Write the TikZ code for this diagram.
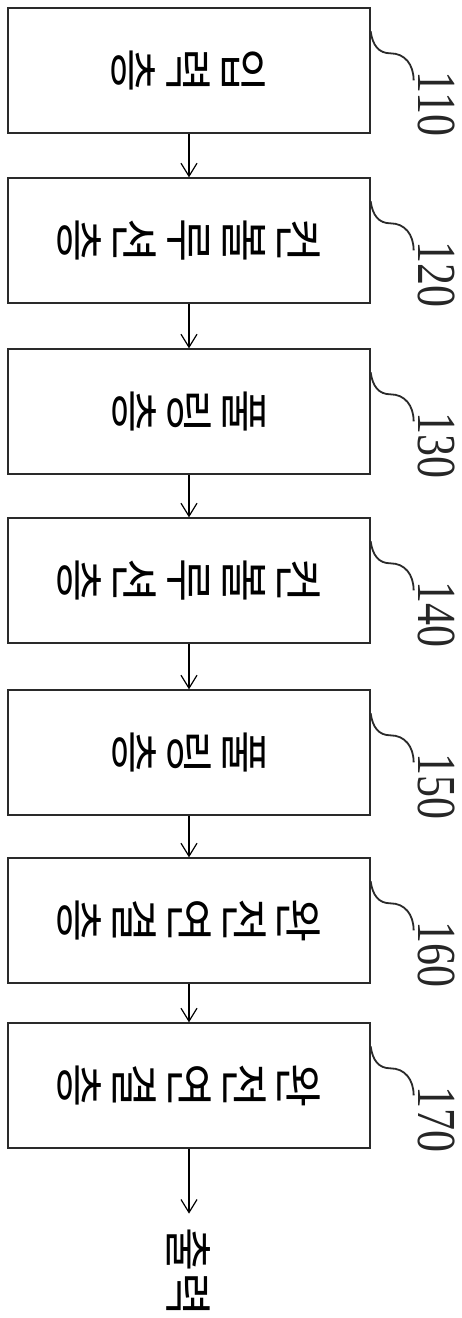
\documentclass[tikz,border=0pt]{standalone}
\usepackage{fontspec}
\setmainfont{Liberation Serif}
\newfontfamily\kr{Noto Sans CJK KR}
\usetikzlibrary{arrows.meta}
\definecolor{ink}{HTML}{2A2A2A}
\begin{document}
\begin{tikzpicture}[x=1pt,y=-1pt,
  layerbox/.style={draw=ink, line width=1.3pt, minimum width=362pt, minimum height=125pt, inner sep=0pt},
  layertext/.style={rotate=-90, align=center, inner sep=0pt, font=\kr\fontsize{48}{55}\selectfont},
  numlabel/.style={rotate=-90, inner sep=0pt, text=black!85, font=\fontsize{44}{44}\selectfont},
  labelline/.style={draw=ink, line width=1.8pt},
  flow/.style={draw=black, line width=1.2pt, -{Straight Barb[length=13pt,width=16pt,line width=1.2pt]}}
]
\useasboundingbox (0,0) rectangle (462,1318);
\fill[white] (0,0) rectangle (462,1318);
\foreach \i/\t/\n/\txt in {1/8/110/{입\\력\\층},2/178/120/{컨\\볼\\루\\션\\층},3/349/130/{풀\\링\\층},4/518/140/{컨\\볼\\루\\션\\층},5/690/150/{풀\\링\\층},6/858/160/{완\\전\\연\\결\\층},7/1023/170/{완\\전\\연\\결\\층}}{
  \node[layerbox] (b\i) at (189,\t+62.5) {};
  \node[layertext] (t\i) at (b\i.center) {\txt};
  \node[numlabel] (n\i) at (437,\t+96) {\scalebox{1}[1.25]{\n}};
  \draw[labelline] ([yshift=-24pt]b\i.north east) .. controls +(2,14) and +(-12,0) .. ++(20,22) .. controls +(14,0) and +(0,-16) .. ++(23,27);
}
\foreach \a/\b in {1/2,2/3,3/4,4/5,5/6,6/7}{
  \draw[flow] (b\a.south) -- (b\b.north);
}
\node[rotate=-90, inner sep=0pt, font=\kr\fontsize{48}{48}\selectfont] (out) at (189,1272) {출력};
\draw[flow, shorten >=14pt] (b7.south) -- (out.west);
\end{tikzpicture}
\end{document}
